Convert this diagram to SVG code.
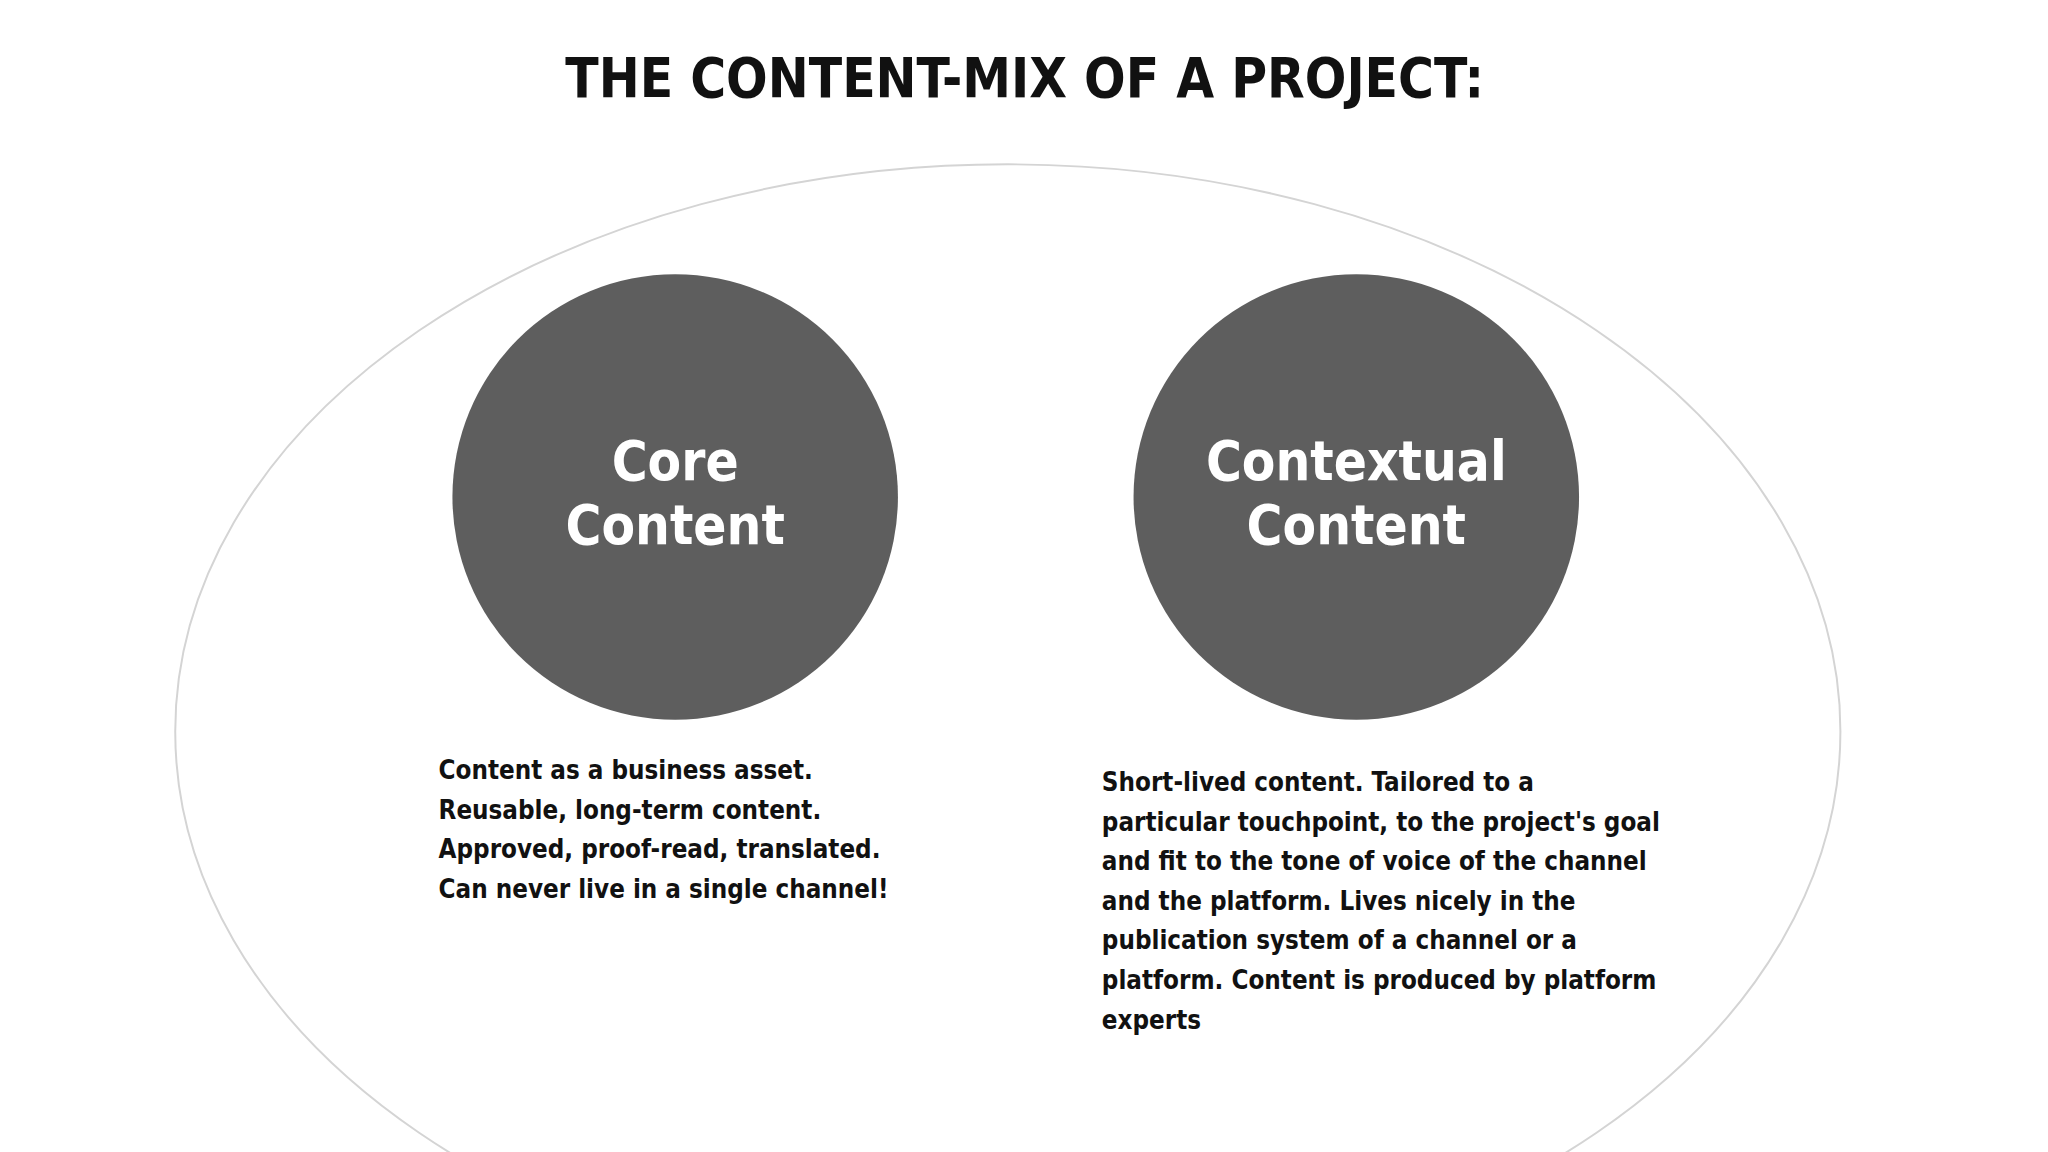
<svg xmlns="http://www.w3.org/2000/svg" width="2048" height="1152" viewBox="0 0 2048 1152">
<style>
.t{font-family:"DejaVu Sans Condensed","DejaVu Sans",sans-serif;font-weight:bold}
.c{fill:#5e5e5e}
.ct{fill:#fff;font-size:55px;text-anchor:middle}
.p{fill:#111;font-size:26px}
</style>
<rect width="2048" height="1152" fill="#fff"/>
<g transform="scale(0.99)">
<text class="t" x="1035" y="98" font-size="55" text-anchor="middle" fill="#111">THE CONTENT-MIX OF A PROJECT:</text>
<ellipse cx="1018" cy="739" rx="841" ry="573" fill="none" stroke="#d4d4d4" stroke-width="2"/>
<g id="core">
<circle class="c" cx="682" cy="502" r="225"/>
<text class="t ct" x="682" y="485">Core</text>
<text class="t ct" x="682" y="550">Content</text>
<text class="t p" x="443" y="787">Content as a business asset.</text>
<text class="t p" x="443" y="827">Reusable, long-term content.</text>
<text class="t p" x="443" y="867">Approved, proof-read, translated.</text>
<text class="t p" x="443" y="907">Can never live in a single channel!</text>
</g>
<g id="contextual">
<circle class="c" cx="1370" cy="502" r="225"/>
<text class="t ct" x="1370" y="485">Contextual</text>
<text class="t ct" x="1370" y="550">Content</text>
<text class="t p" x="1113" y="799">Short-lived content. Tailored to a</text>
<text class="t p" x="1113" y="839">particular touchpoint, to the project's goal</text>
<text class="t p" x="1113" y="879">and fit to the tone of voice of the channel</text>
<text class="t p" x="1113" y="919">and the platform. Lives nicely in the</text>
<text class="t p" x="1113" y="959">publication system of a channel or a</text>
<text class="t p" x="1113" y="999">platform. Content is produced by platform</text>
<text class="t p" x="1113" y="1039">experts</text>
</g>
<g id="connectors"/>
</g>
</svg>
